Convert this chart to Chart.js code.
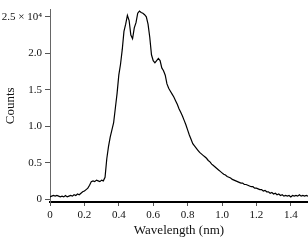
<!DOCTYPE html>
<html>
<head>
<meta charset="utf-8">
<script src="https://cdn.jsdelivr.net/npm/chart.js@4.4.0/dist/chart.umd.min.js"></script>
<style>
html,body{margin:0;padding:0;background:#fff;}
#wrap{width:308px;height:240px;position:relative;}
</style>
</head>
<body>
<div id="wrap"><canvas id="c" width="308" height="240"></canvas></div>
<script>
// Wavelength (nm), step 0.01 from 0 to 1.50
const wavelengthStart = 0;
const wavelengthStep = 0.01;
// Counts in units of 10^4
const counts = [
0.03,0.04,0.05,0.04,0.05,0.04,0.03,0.04,0.03,0.05,
0.03,0.04,0.05,0.04,0.06,0.05,0.07,0.06,0.08,0.10,
0.11,0.13,0.15,0.19,0.24,0.25,0.24,0.26,0.25,0.24,
0.26,0.25,0.30,0.55,0.72,0.85,0.95,1.05,1.25,1.45,
1.70,1.85,2.05,2.30,2.40,2.52,2.45,2.25,2.20,2.35,
2.42,2.55,2.58,2.56,2.55,2.53,2.50,2.40,2.22,1.98,
1.90,1.87,1.90,1.93,1.90,1.80,1.76,1.70,1.58,1.52,
1.48,1.44,1.40,1.35,1.30,1.24,1.19,1.14,1.08,1.02,
0.95,0.88,0.82,0.76,0.73,0.70,0.67,0.64,0.62,0.60,
0.58,0.56,0.53,0.51,0.48,0.46,0.44,0.42,0.40,0.38,
0.36,0.34,0.33,0.31,0.30,0.29,0.27,0.26,0.25,0.24,
0.23,0.22,0.22,0.20,0.20,0.19,0.18,0.17,0.17,0.15,
0.15,0.14,0.13,0.13,0.11,0.12,0.10,0.10,0.08,0.09,
0.07,0.08,0.06,0.07,0.05,0.06,0.04,0.05,0.04,0.05,
0.03,0.05,0.04,0.05,0.04,0.06,0.04,0.05,0.04,0.05,
0.04
];
const xTicks = [0, 0.2, 0.4, 0.6, 0.8, 1.0, 1.2, 1.4];
const yTicks = [0, 0.5, 1.0, 1.5, 2.0, 2.5];
const yTickLabels = ["0", "0.5", "1.0", "1.5", "2.0", "2.5 \u00d7 10\u2074"];
const xTickLabels = ["0", "0.2", "0.4", "0.6", "0.8", "1.0", "1.2", "1.4"];

const points = counts.map((v, i) => ({x: +(wavelengthStart + i * wavelengthStep).toFixed(2), y: v}));

const serif = "'Liberation Serif', 'DejaVu Serif', serif";

new Chart(document.getElementById('c'), {
  type: 'line',
  data: {
    datasets: [{
      data: points,
      borderColor: '#000',
      borderWidth: 1.2,
      pointRadius: 0,
      tension: 0,
      fill: false
    }]
  },
  options: {
    responsive: false,
    animation: false,
    devicePixelRatio: 1,
    layout: {padding: {left: 0, right: 0, top: 7, bottom: 0}},
    plugins: {legend: {display: false}, tooltip: {enabled: false}},
    scales: {
      x: {
        type: 'linear',
        min: 0,
        max: 1.5,
        afterBuildTicks: (s) => { s.ticks = xTicks.map(v => ({value: v})); },
        afterFit: (s) => { s.height = 38; },
        ticks: {
          autoSkip: false,
          maxRotation: 0,
          padding: 3,
          color: '#111',
          font: {family: serif, size: 11},
          callback: (v) => { const i = xTicks.indexOf(v); return i >= 0 ? xTickLabels[i] : ''; }
        },
        grid: {display: true, drawOnChartArea: false, drawTicks: true, tickLength: 4, color: '#555', lineWidth: 1},
        border: {display: true, color: '#000', width: 2},
        title: {display: true, text: 'Wavelength (nm)', color: '#111', font: {family: serif, size: 13}, padding: {top: 0, bottom: 2}}
      },
      y: {
        type: 'linear',
        min: -0.04,
        max: 2.6,
        afterBuildTicks: (s) => { s.ticks = yTicks.map(v => ({value: v})); },
        afterFit: (s) => { s.width = 50; },
        ticks: {
          autoSkip: false,
          padding: 3,
          color: '#111',
          font: {family: serif, size: 11},
          callback: (v) => { const i = yTicks.indexOf(v); return i >= 0 ? yTickLabels[i] : ''; }
        },
        grid: {display: true, drawOnChartArea: false, drawTicks: true, tickLength: 5, color: '#555', lineWidth: 1},
        border: {display: true, color: '#666', width: 1},
        title: {display: true, text: 'Counts', color: '#111', font: {family: serif, size: 13}, padding: {top: 3, bottom: 0}}
      }
    }
  }
});
</script>
</body>
</html>
